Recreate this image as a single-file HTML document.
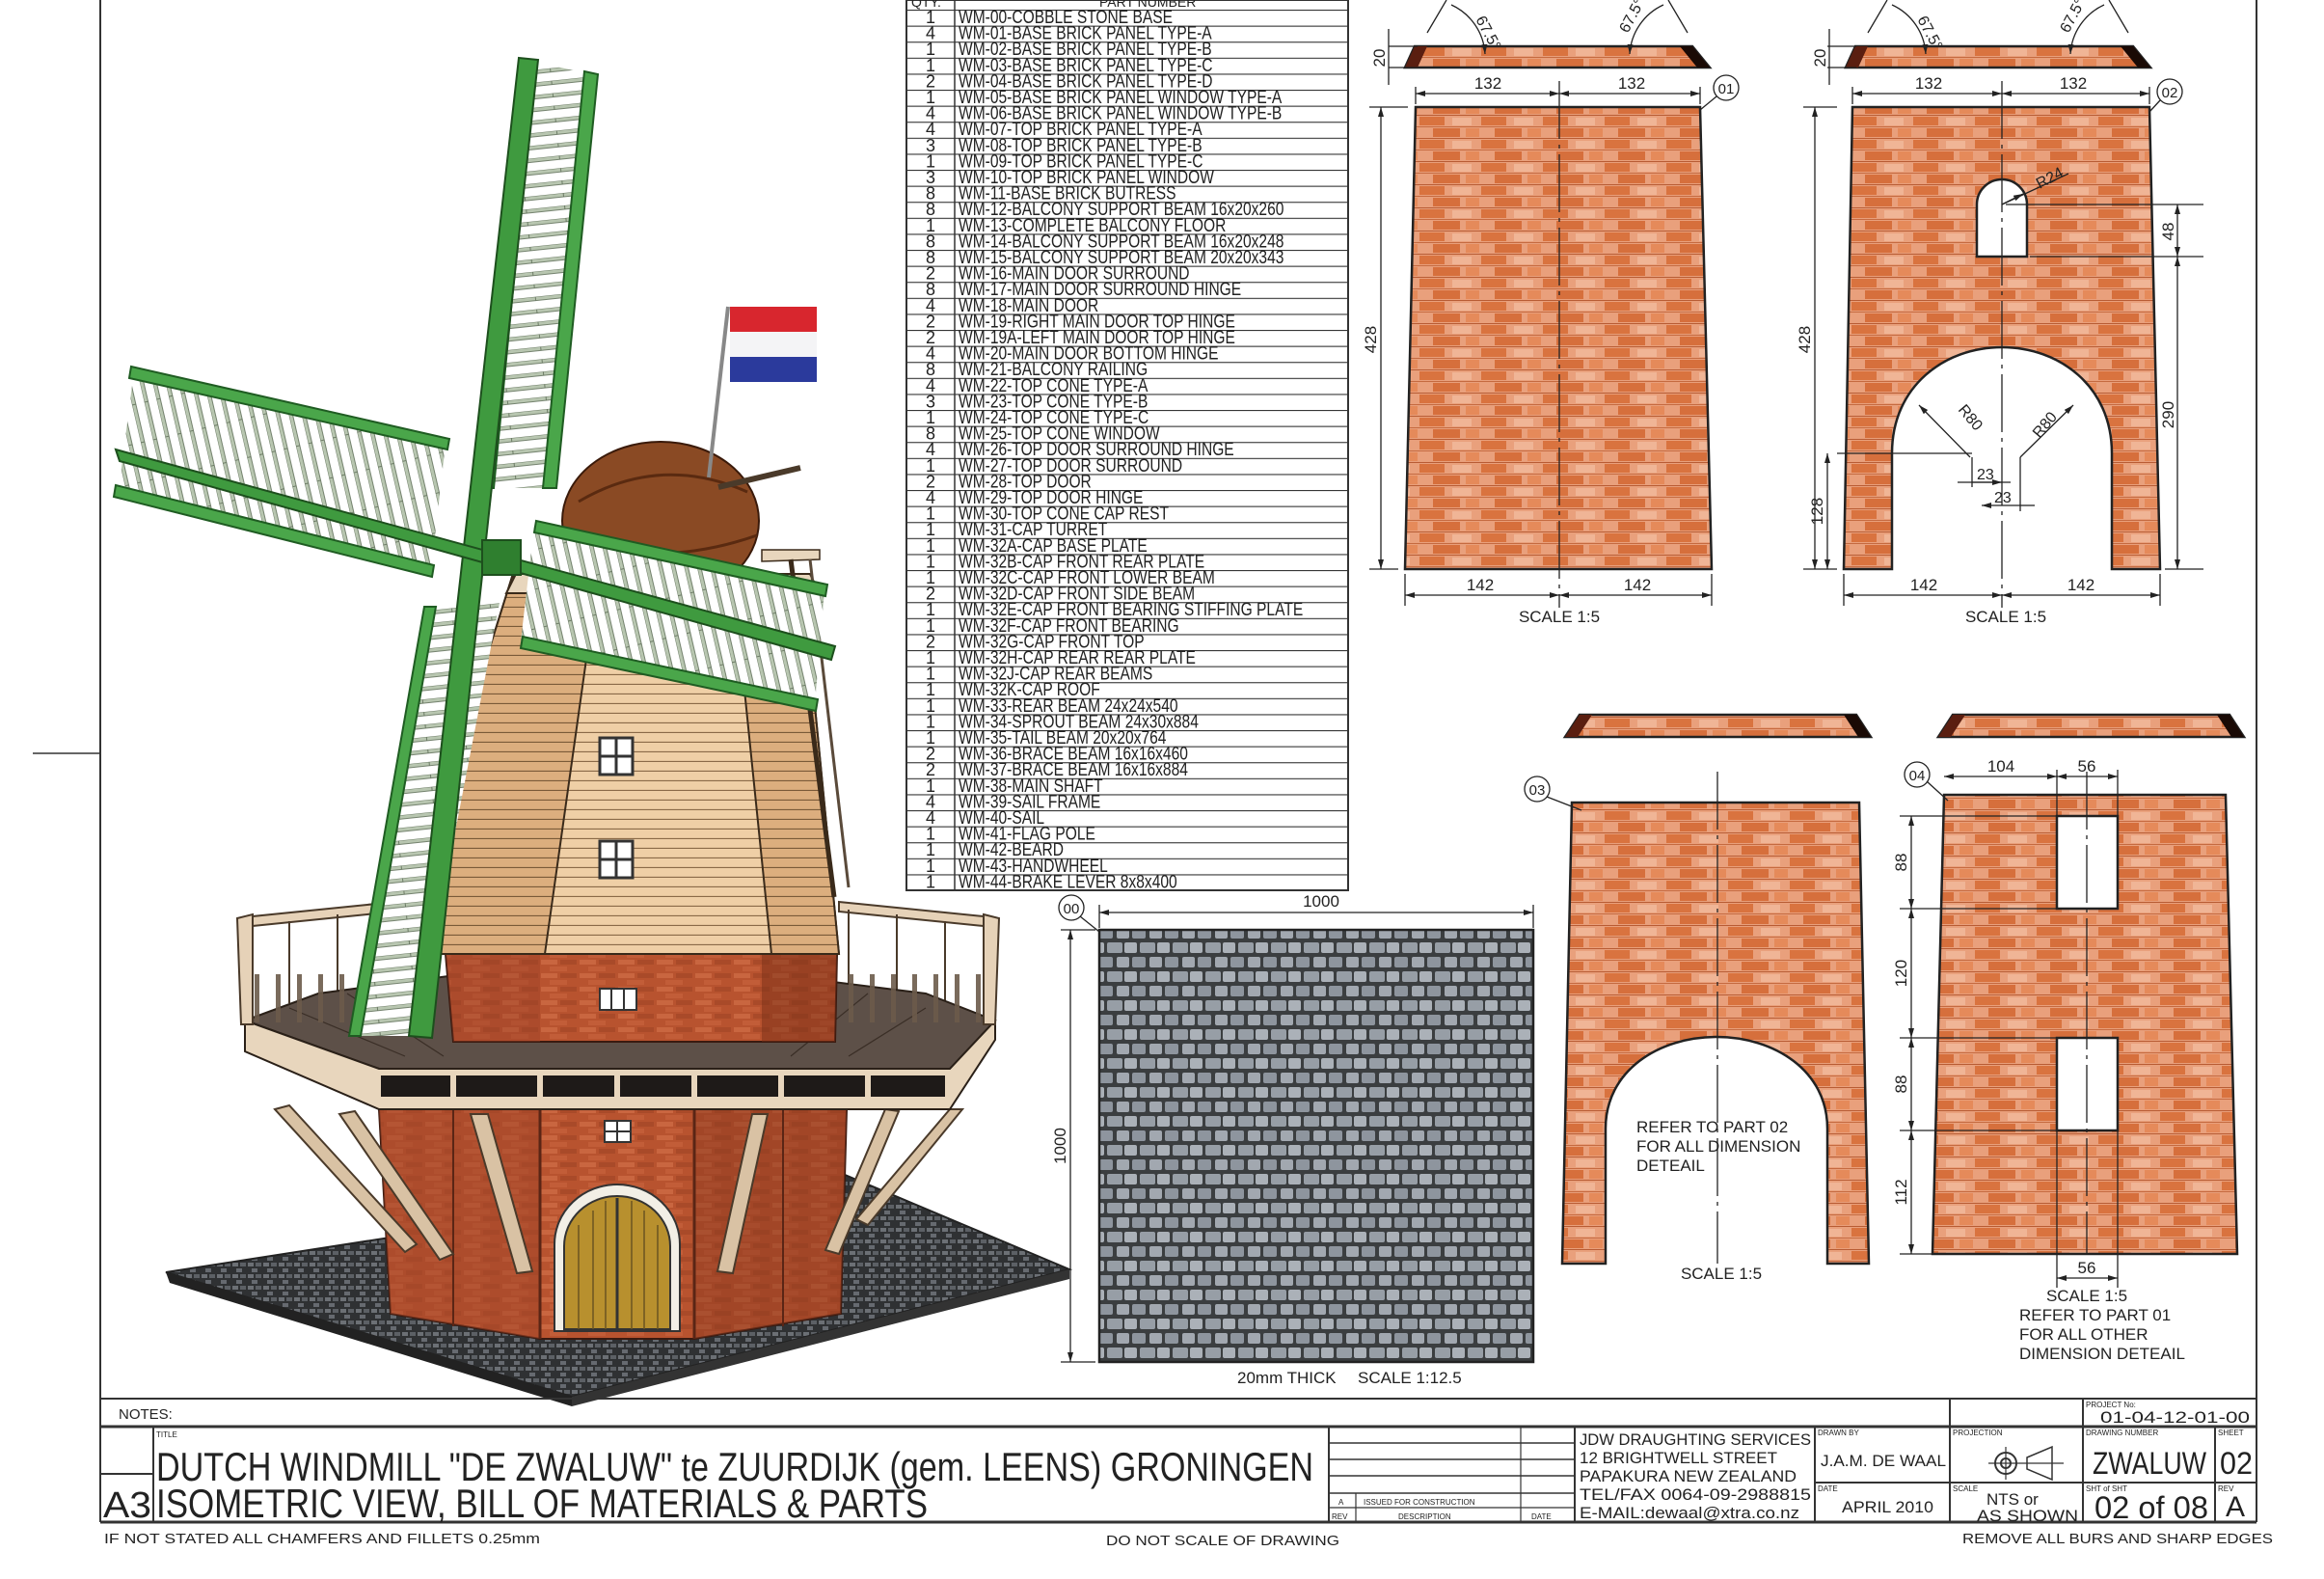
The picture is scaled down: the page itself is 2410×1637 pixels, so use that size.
<!DOCTYPE html>
<html><head><meta charset="utf-8"><style>
html,body{margin:0;padding:0;background:#fff}
svg{display:block}
text{font-family:"Liberation Sans",sans-serif;fill:#222}
</style></head><body>
<svg width="2410" height="1637" viewBox="0 0 2410 1637" xmlns="http://www.w3.org/2000/svg">
<defs>
<pattern id="brick" patternUnits="userSpaceOnUse" width="64" height="24">
<rect width="64" height="24" fill="#e9a07c"/>
<rect x="0" y="1" width="26" height="9" fill="#d9733f"/>
<rect x="34" y="2" width="20" height="8" fill="#f0b596"/>
<rect x="14" y="13" width="28" height="9" fill="#d66f3c"/>
<rect x="48" y="13" width="14" height="9" fill="#e58a5a"/>
<line x1="0" y1="11.5" x2="64" y2="11.5" stroke="#c56a40" stroke-width="1"/>
<line x1="0" y1="23.5" x2="64" y2="23.5" stroke="#b85c34" stroke-width="1"/>
</pattern>
<pattern id="brickd" patternUnits="userSpaceOnUse" width="40" height="14">
<rect width="40" height="14" fill="#b8532f"/>
<rect x="1" y="1" width="17" height="5" fill="#c96640"/>
<rect x="21" y="1" width="17" height="5" fill="#a94a29"/>
<rect x="10" y="8" width="18" height="5" fill="#c25d38"/>
</pattern>
<pattern id="cobble" patternUnits="userSpaceOnUse" width="34" height="30">
<rect width="34" height="30" fill="#3b3e40"/>
<rect x="2" y="2" width="13" height="11" rx="2" fill="#a2a8b0"/>
<rect x="18" y="2" width="14" height="11" rx="2" fill="#8e959e"/>
<rect x="-6" y="17" width="14" height="11" rx="2" fill="#979ea6"/>
<rect x="10" y="17" width="13" height="11" rx="2" fill="#abb1b8"/>
<rect x="26" y="17" width="14" height="11" rx="2" fill="#979ea6"/>
</pattern>
<pattern id="cobbles" patternUnits="userSpaceOnUse" width="16" height="12">
<rect width="16" height="12" fill="#2f3133"/>
<rect x="1" y="1" width="6" height="4" fill="#6c7075"/>
<rect x="9" y="1" width="6" height="4" fill="#5c6065"/>
<rect x="5" y="7" width="6" height="4" fill="#666a70"/>
</pattern>
<pattern id="plank" patternUnits="userSpaceOnUse" width="20" height="10">
<rect width="20" height="10" fill="#efcfa6"/>
<line x1="0" y1="9.5" x2="20" y2="9.5" stroke="#8a6a48" stroke-width="1.2"/>
</pattern>
<pattern id="plankd" patternUnits="userSpaceOnUse" width="20" height="10">
<rect width="20" height="10" fill="#dcae7e"/>
<line x1="0" y1="9.5" x2="20" y2="9.5" stroke="#7a5a38" stroke-width="1.2"/>
</pattern>
<pattern id="rungV" patternUnits="userSpaceOnUse" width="40" height="13" patternTransform="rotate(-6)">
<rect width="40" height="13" fill="#fff"/>
<rect x="0" y="0" width="40" height="4" fill="#b8c6b0" stroke="#5b6b55" stroke-width="0.8"/>
</pattern>
<pattern id="rungH" patternUnits="userSpaceOnUse" width="13" height="40" patternTransform="rotate(-13)">
<rect width="13" height="40" fill="#fff"/>
<rect x="0" y="0" width="4" height="40" fill="#b8c6b0" stroke="#5b6b55" stroke-width="0.8"/>
</pattern>
<pattern id="rows" patternUnits="userSpaceOnUse" width="460" height="16.6" y="10">
<line x1="0" y1="0.5" x2="460" y2="0.5" stroke="#333" stroke-width="1.3"/>
</pattern>
<pattern id="rail" patternUnits="userSpaceOnUse" width="22" height="60">
<rect width="22" height="60" fill="none"/>
<rect x="0" y="0" width="5" height="60" fill="#6b5a4a"/>
</pattern>
<marker id="ar" viewBox="0 0 10 6" refX="10" refY="3" markerWidth="12" markerHeight="6" orient="auto-start-reverse" markerUnits="userSpaceOnUse"><path d="M0,0 L10,3 L0,6 z" fill="#222"/></marker>
</defs>

<line x1="104" y1="0" x2="104" y2="1578" stroke="#333" stroke-width="2"/>
<line x1="2340" y1="0" x2="2340" y2="1578" stroke="#333" stroke-width="2"/>
<line x1="34" y1="781" x2="104" y2="781" stroke="#333" stroke-width="1.5"/>

<g>
<polygon points="172,1319 862,1212 1109,1316 593,1448" fill="url(#cobbles)" stroke="#222" stroke-width="2"/>
<polygon points="172,1319 593,1448 593,1458 176,1330" fill="#222"/>
<polygon points="593,1448 1109,1316 1109,1326 593,1458" fill="#333"/>
<polygon points="393,1150 460,1130 820,1130 878,1150 872,1362 720,1388 560,1388 405,1362" fill="url(#brickd)" stroke="#3a1a10" stroke-width="2"/>
<polygon points="460,1130 560,1140 560,1388 405,1362 393,1150" fill="#a4472a" opacity="0.55"/>
<polygon points="720,1140 820,1130 878,1150 872,1362 720,1388" fill="#8c3a20" opacity="0.5"/>
<line x1="560" y1="1140" x2="560" y2="1388" stroke="#5a2515" stroke-width="3"/>
<line x1="720" y1="1140" x2="720" y2="1388" stroke="#5a2515" stroke-width="3"/>
<line x1="470" y1="1136" x2="470" y2="1375" stroke="#5a2515" stroke-width="2"/>
<line x1="812" y1="1136" x2="812" y2="1375" stroke="#5a2515" stroke-width="2"/>
<path d="M575,1380 V1290 A65,62 0 0 1 705,1290 V1380 Z" fill="#f2efe6" stroke="#333" stroke-width="2"/>
<path d="M585,1378 V1292 A55,52 0 0 1 695,1292 V1378 Z" fill="#b8902e" stroke="#333" stroke-width="2"/>
<line x1="640" y1="1242" x2="640" y2="1378" stroke="#333" stroke-width="3"/>
<g stroke="#6b5420" stroke-width="1.5"><line x1="600" y1="1270" x2="600" y2="1378"/><line x1="615" y1="1255" x2="615" y2="1378"/><line x1="628" y1="1245" x2="628" y2="1378"/><line x1="655" y1="1245" x2="655" y2="1378"/><line x1="668" y1="1255" x2="668" y2="1378"/><line x1="682" y1="1270" x2="682" y2="1378"/></g>
<rect x="627" y="1162" width="27" height="22" fill="#fff" stroke="#333" stroke-width="2"/><line x1="640" y1="1162" x2="640" y2="1184" stroke="#333" stroke-width="2"/><line x1="627" y1="1173" x2="654" y2="1173" stroke="#333" stroke-width="2"/>
<g stroke="#4a3a2a" stroke-width="2" fill="#d9c2a4">
<polygon points="285,1150 300,1146 432,1290 420,1298"/>
<polygon points="352,1155 368,1152 470,1300 456,1306"/>
<polygon points="488,1155 506,1155 552,1318 536,1320"/>
<polygon points="918,1150 932,1152 870,1300 856,1296"/>
<polygon points="985,1150 998,1150 900,1270 888,1264"/>
<polygon points="780,1155 796,1155 760,1320 744,1318"/>
</g>
<g stroke="#4a3a2a" stroke-width="2">
<polygon points="250,958 262,950 410,935 410,945 262,960" fill="#e6d2b8"/>
<polygon points="870,935 1020,950 1032,958 1020,960 870,945" fill="#e6d2b8"/>
<line x1="255" y1="958" x2="258" y2="1060"/>
<line x1="1028" y1="958" x2="1025" y2="1060"/>
<line x1="300" y1="955" x2="300" y2="1040"/>
<line x1="350" y1="948" x2="350" y2="1030"/>
<line x1="400" y1="943" x2="400" y2="1020"/>
<line x1="880" y1="943" x2="880" y2="1020"/>
<line x1="930" y1="948" x2="930" y2="1030"/>
<line x1="980" y1="955" x2="980" y2="1040"/>
</g>
<polygon points="254,1058 330,1030 480,1010 800,1010 960,1030 1032,1058 985,1108 393,1108" fill="#5d5048" stroke="#2a2018" stroke-width="2"/>
<g stroke="#3a2e26" stroke-width="1.2">
<line x1="300" y1="1045" x2="420" y2="1095"/><line x1="360" y1="1030" x2="460" y2="1095"/><line x1="900" y1="1030" x2="820" y2="1095"/><line x1="960" y1="1045" x2="880" y2="1095"/>
</g>
<polygon points="462,989 868,989 866,1080 470,1080" fill="url(#brickd)" stroke="#3a1a10" stroke-width="2"/>
<polygon points="560,989 560,1080 470,1080 462,989" fill="#9a4227" opacity="0.4"/>
<polygon points="790,989 790,1080 866,1080 868,989" fill="#7a3018" opacity="0.5"/>
<rect x="622" y="1025" width="38" height="22" fill="#fff" stroke="#333" stroke-width="2"/><line x1="634" y1="1025" x2="634" y2="1047" stroke="#333" stroke-width="2"/><line x1="647" y1="1025" x2="647" y2="1047" stroke="#333" stroke-width="2"/>
<polygon points="254,1058 393,1108 985,1108 1032,1058 1032,1078 985,1150 393,1150 254,1090" fill="#e8d6bd" stroke="#2a2018" stroke-width="2"/>
<rect x="395" y="1115" width="585" height="22" fill="#1e1a18"/>
<g stroke="#e8d6bd" stroke-width="6"><line x1="470" y1="1115" x2="470" y2="1137"/><line x1="560" y1="1115" x2="560" y2="1137"/><line x1="640" y1="1115" x2="640" y2="1137"/><line x1="720" y1="1115" x2="720" y2="1137"/><line x1="810" y1="1115" x2="810" y2="1137"/><line x1="900" y1="1115" x2="900" y2="1137"/></g>
<g stroke="#4a3a2a" stroke-width="2" fill="#e6d2b8">
<polygon points="246,952 262,948 262,1062 250,1062"/>
<polygon points="1020,948 1036,952 1032,1062 1020,1062"/>
</g>
<rect x="262" y="1010" width="140" height="50" fill="url(#rail)" opacity="0.9"/>
<rect x="880" y="1010" width="140" height="50" fill="url(#rail)" opacity="0.9"/>
<polygon points="531,598 832,598 870,989 408,989" fill="url(#plank)" stroke="#3a2a1a" stroke-width="2"/>
<polygon points="531,598 620,598 565,989 408,989" fill="url(#plankd)" stroke="#3a2a1a" stroke-width="2"/>
<polygon points="760,598 832,598 870,989 800,989" fill="url(#plankd)" stroke="#3a2a1a" stroke-width="2"/>
<rect x="622" y="765" width="34" height="38" fill="#fff" stroke="#333" stroke-width="3"/><line x1="639" y1="765" x2="639" y2="803" stroke="#333" stroke-width="3"/><line x1="622" y1="784" x2="656" y2="784" stroke="#333" stroke-width="3"/>
<rect x="622" y="872" width="34" height="38" fill="#fff" stroke="#333" stroke-width="3"/><line x1="639" y1="872" x2="639" y2="910" stroke="#333" stroke-width="3"/><line x1="622" y1="891" x2="656" y2="891" stroke="#333" stroke-width="3"/>
<polygon points="535,595 840,595 850,615 525,615" fill="#e8d6bd" stroke="#3a2a1a" stroke-width="2"/>
<ellipse cx="685" cy="540" rx="102" ry="82" fill="#8a4a24" stroke="#3a1a0a" stroke-width="2"/>
<path d="M600,520 Q685,470 775,510" fill="none" stroke="#5a2a10" stroke-width="3"/>
<path d="M590,560 Q685,590 785,555" fill="none" stroke="#5a2a10" stroke-width="3"/>
<line x1="745" y1="505" x2="830" y2="485" stroke="#4a3a2a" stroke-width="6"/>
<polygon points="790,570 850,570 850,580 790,582" fill="#e8d6bd" stroke="#3a2a1a" stroke-width="1.5"/>
<line x1="820" y1="580" x2="865" y2="930" stroke="#3a2a1a" stroke-width="5"/>
<line x1="840" y1="580" x2="880" y2="920" stroke="#5a4a3a" stroke-width="3"/>
<line x1="755" y1="318" x2="735" y2="495" stroke="#888" stroke-width="4"/>
<rect x="757" y="318" width="90" height="26" fill="#d8262e"/>
<rect x="757" y="344" width="90" height="26" fill="#f4f4f6"/>
<rect x="757" y="370" width="90" height="26" fill="#2b3a9c"/>
<polygon points="554,64 613,77 570,506 508,506" fill="url(#rungV)"/>
<polygon points="518,625 447,629 367,1074 431,1074" fill="url(#rungV)"/>
<polygon points="139,384 462,460 447,592 123,508" fill="url(#rungH)"/>
<polygon points="554,545 855,611 845,730 540,665" fill="url(#rungH)"/>
<g stroke="#1f5c22" stroke-width="2" fill="#4aa64a">
<polygon points="606,74 620,77 577,506 563,506"/>
<polygon points="541,62 555,64 512,506 498,506"/>
<polygon points="452,629 440,629 362,1074 374,1074"/>
<polygon points="136,380 466,455 464,466 134,392"/>
<polygon points="120,503 450,586 448,598 118,515"/>
<polygon points="556,540 858,606 856,618 554,552"/>
<polygon points="542,660 848,725 846,737 540,672"/>
</g>
<polygon points="538,60 558,62 448,1076 424,1074" fill="#3f9a3f" stroke="#1d4f1d" stroke-width="2"/>
<polygon points="120,466 124,478 862,684 866,670" fill="#3f9a3f" stroke="#1d4f1d" stroke-width="2"/>
<rect x="500" y="560" width="40" height="36" fill="#2f7f2f" stroke="#1d4f1d" stroke-width="2"/>
</g>

<rect x="940" y="0" width="458" height="923" fill="none" stroke="#333" stroke-width="2"/>
<rect x="940" y="10" width="458" height="913" fill="url(#rows)"/>
<line x1="990" y1="0" x2="990" y2="923" stroke="#333" stroke-width="1.5"/>
<text x="945" y="7" font-size="14">QTY.</text>
<text x="1140" y="7" font-size="14">PART NUMBER</text>
<g font-size="18" text-anchor="middle">
<text x="965" y="24">1</text><text x="965" y="40.6">4</text><text x="965" y="57.2">1</text><text x="965" y="73.8">1</text><text x="965" y="90.4">2</text><text x="965" y="107">1</text><text x="965" y="123.6">4</text><text x="965" y="140.2">4</text><text x="965" y="156.8">3</text><text x="965" y="173.4">1</text><text x="965" y="190">3</text><text x="965" y="206.6">8</text><text x="965" y="223.2">8</text><text x="965" y="239.8">1</text><text x="965" y="256.4">8</text><text x="965" y="273">8</text><text x="965" y="289.6">2</text><text x="965" y="306.2">8</text><text x="965" y="322.8">4</text><text x="965" y="339.4">2</text><text x="965" y="356">2</text><text x="965" y="372.6">4</text><text x="965" y="389.2">8</text><text x="965" y="405.8">4</text><text x="965" y="422.4">3</text><text x="965" y="439">1</text><text x="965" y="455.6">8</text><text x="965" y="472.2">4</text><text x="965" y="488.8">1</text><text x="965" y="505.4">2</text><text x="965" y="522">4</text><text x="965" y="538.6">1</text><text x="965" y="555.2">1</text><text x="965" y="571.8">1</text><text x="965" y="588.4">1</text><text x="965" y="605">1</text><text x="965" y="621.6">2</text><text x="965" y="638.2">1</text><text x="965" y="654.8">1</text><text x="965" y="671.4">2</text><text x="965" y="688">1</text><text x="965" y="704.6">1</text><text x="965" y="721.2">1</text><text x="965" y="737.8">1</text><text x="965" y="754.4">1</text><text x="965" y="771">1</text><text x="965" y="787.6">2</text><text x="965" y="804.2">2</text><text x="965" y="820.8">1</text><text x="965" y="837.4">4</text><text x="965" y="854">4</text><text x="965" y="870.6">1</text><text x="965" y="887.2">1</text><text x="965" y="903.8">1</text><text x="965" y="920.4">1</text>
</g>
<g transform="translate(994,0) scale(0.82,1)" font-size="19">
<text x="0" y="24">WM-00-COBBLE STONE BASE</text>
<text x="0" y="40.6">WM-01-BASE BRICK PANEL TYPE-A</text>
<text x="0" y="57.2">WM-02-BASE BRICK PANEL TYPE-B</text>
<text x="0" y="73.8">WM-03-BASE BRICK PANEL TYPE-C</text>
<text x="0" y="90.4">WM-04-BASE BRICK PANEL TYPE-D</text>
<text x="0" y="107">WM-05-BASE BRICK PANEL WINDOW TYPE-A</text>
<text x="0" y="123.6">WM-06-BASE BRICK PANEL WINDOW TYPE-B</text>
<text x="0" y="140.2">WM-07-TOP BRICK PANEL TYPE-A</text>
<text x="0" y="156.8">WM-08-TOP BRICK PANEL TYPE-B</text>
<text x="0" y="173.4">WM-09-TOP BRICK PANEL TYPE-C</text>
<text x="0" y="190">WM-10-TOP BRICK PANEL WINDOW</text>
<text x="0" y="206.6">WM-11-BASE BRICK BUTRESS</text>
<text x="0" y="223.2">WM-12-BALCONY SUPPORT BEAM 16x20x260</text>
<text x="0" y="239.8">WM-13-COMPLETE BALCONY FLOOR</text>
<text x="0" y="256.4">WM-14-BALCONY SUPPORT BEAM 16x20x248</text>
<text x="0" y="273">WM-15-BALCONY SUPPORT BEAM 20x20x343</text>
<text x="0" y="289.6">WM-16-MAIN DOOR SURROUND</text>
<text x="0" y="306.2">WM-17-MAIN DOOR SURROUND HINGE</text>
<text x="0" y="322.8">WM-18-MAIN DOOR</text>
<text x="0" y="339.4">WM-19-RIGHT MAIN DOOR TOP HINGE</text>
<text x="0" y="356">WM-19A-LEFT MAIN DOOR TOP HINGE</text>
<text x="0" y="372.6">WM-20-MAIN DOOR BOTTOM HINGE</text>
<text x="0" y="389.2">WM-21-BALCONY RAILING</text>
<text x="0" y="405.8">WM-22-TOP CONE TYPE-A</text>
<text x="0" y="422.4">WM-23-TOP CONE TYPE-B</text>
<text x="0" y="439">WM-24-TOP CONE TYPE-C</text>
<text x="0" y="455.6">WM-25-TOP CONE WINDOW</text>
<text x="0" y="472.2">WM-26-TOP DOOR SURROUND HINGE</text>
<text x="0" y="488.8">WM-27-TOP DOOR SURROUND</text>
<text x="0" y="505.4">WM-28-TOP DOOR</text>
<text x="0" y="522">WM-29-TOP DOOR HINGE</text>
<text x="0" y="538.6">WM-30-TOP CONE CAP REST</text>
<text x="0" y="555.2">WM-31-CAP TURRET</text>
<text x="0" y="571.8">WM-32A-CAP BASE PLATE</text>
<text x="0" y="588.4">WM-32B-CAP FRONT REAR PLATE</text>
<text x="0" y="605">WM-32C-CAP FRONT LOWER BEAM</text>
<text x="0" y="621.6">WM-32D-CAP FRONT SIDE BEAM</text>
<text x="0" y="638.2">WM-32E-CAP FRONT BEARING STIFFING PLATE</text>
<text x="0" y="654.8">WM-32F-CAP FRONT BEARING</text>
<text x="0" y="671.4">WM-32G-CAP FRONT TOP</text>
<text x="0" y="688">WM-32H-CAP REAR REAR PLATE</text>
<text x="0" y="704.6">WM-32J-CAP REAR  BEAMS</text>
<text x="0" y="721.2">WM-32K-CAP ROOF</text>
<text x="0" y="737.8">WM-33-REAR BEAM 24x24x540</text>
<text x="0" y="754.4">WM-34-SPROUT BEAM 24x30x884</text>
<text x="0" y="771">WM-35-TAIL BEAM 20x20x764</text>
<text x="0" y="787.6">WM-36-BRACE BEAM 16x16x460</text>
<text x="0" y="804.2">WM-37-BRACE BEAM 16x16x884</text>
<text x="0" y="820.8">WM-38-MAIN SHAFT</text>
<text x="0" y="837.4">WM-39-SAIL FRAME</text>
<text x="0" y="854">WM-40-SAIL</text>
<text x="0" y="870.6">WM-41-FLAG POLE</text>
<text x="0" y="887.2">WM-42-BEARD</text>
<text x="0" y="903.8">WM-43-HANDWHEEL</text>
<text x="0" y="920.4">WM-44-BRAKE LEVER 8x8x400</text>
</g>

<g stroke="#222" stroke-width="1.3" fill="none">
<polygon points="1467,48 1755,48 1773,70 1457,70" fill="url(#brick)" stroke-width="2.5"/>
<polygon points="1467,48 1480,48 1470,70 1457,70" fill="#5a1e10" stroke="none"/>
<polygon points="1742,48 1755,48 1773,70 1760,70" fill="#1a0a05" stroke="none"/>
<path d="M1480,34 L1500,0"/><path d="M1750,34 L1730,0"/>
<path d="M1540,56 A60,60 0 0 0 1505,5" marker-start="url(#ar)"/>
<path d="M1690,56 A60,60 0 0 1 1725,5" marker-start="url(#ar)"/>
<line x1="1440" y1="48" x2="1470" y2="48"/><line x1="1440" y1="70" x2="1470" y2="70"/>
<line x1="1440" y1="30" x2="1440" y2="88"/>
<polygon points="1468,111 1763,111 1775,590 1457,590" fill="url(#brick)" stroke-width="2.5"/>
<line x1="1617" y1="84" x2="1617" y2="630" stroke-dasharray="60,6,4,6"/>
<line x1="1468" y1="97" x2="1617" y2="97" marker-start="url(#ar)" marker-end="url(#ar)"/>
<line x1="1617" y1="97" x2="1763" y2="97" marker-start="url(#ar)" marker-end="url(#ar)"/>
<line x1="1468" y1="90" x2="1468" y2="108"/><line x1="1763" y1="90" x2="1763" y2="108"/>
<line x1="1420" y1="111" x2="1460" y2="111"/><line x1="1420" y1="590" x2="1450" y2="590"/>
<line x1="1432" y1="111" x2="1432" y2="590" marker-start="url(#ar)" marker-end="url(#ar)"/>
<line x1="1457" y1="595" x2="1457" y2="628"/><line x1="1775" y1="595" x2="1775" y2="628"/>
<line x1="1457" y1="617" x2="1617" y2="617" marker-start="url(#ar)" marker-end="url(#ar)"/>
<line x1="1617" y1="617" x2="1775" y2="617" marker-start="url(#ar)" marker-end="url(#ar)"/>
<circle cx="1790" cy="91" r="13"/><line x1="1780" y1="100" x2="1763" y2="114"/>
</g>
<g font-size="17">
<text x="1543" y="92" text-anchor="middle">132</text><text x="1692" y="92" text-anchor="middle">132</text>
<text x="1535" y="612" text-anchor="middle">142</text><text x="1698" y="612" text-anchor="middle">142</text>
<text x="1617" y="645" text-anchor="middle">SCALE 1:5</text>
<text x="1790" y="97" text-anchor="middle" font-size="15">01</text>
<text transform="translate(1427,352) rotate(-90)" text-anchor="middle">428</text>
<text transform="translate(1436,60) rotate(-90)" text-anchor="middle">20</text>
<text transform="translate(1530,20) rotate(62)" font-size="16">67.5°</text>
<text transform="translate(1688,35) rotate(-62)" font-size="16">67.5°</text>
</g>

<g stroke="#222" stroke-width="1.3" fill="none">
<polygon points="1924,48 2212,48 2230,70 1914,70" fill="url(#brick)" stroke-width="2.5"/>
<polygon points="1924,48 1937,48 1927,70 1914,70" fill="#5a1e10" stroke="none"/>
<polygon points="2199,48 2212,48 2230,70 2217,70" fill="#1a0a05" stroke="none"/>
<path d="M1937,34 L1957,0"/><path d="M2207,34 L2187,0"/>
<path d="M1997,56 A60,60 0 0 0 1962,5" marker-start="url(#ar)"/>
<path d="M2147,56 A60,60 0 0 1 2182,5" marker-start="url(#ar)"/>
<line x1="1895" y1="48" x2="1925" y2="48"/><line x1="1895" y1="70" x2="1925" y2="70"/>
<line x1="1897" y1="30" x2="1897" y2="88"/>
<path fill-rule="evenodd" fill="url(#brick)" stroke-width="2.5" d="M1921,111 H2229 L2240,590 H2190 V470 C2190,400 2135,360 2076,360 C2017,360 1962,400 1962,470 V590 H1912 Z M2050,266 V212 A26,26 0 0 1 2102,212 V266 Z"/>
<line x1="2076" y1="84" x2="2076" y2="630" stroke-dasharray="60,6,4,6"/>
<line x1="1921" y1="97" x2="2076" y2="97" marker-start="url(#ar)" marker-end="url(#ar)"/>
<line x1="2076" y1="97" x2="2229" y2="97" marker-start="url(#ar)" marker-end="url(#ar)"/>
<line x1="1921" y1="90" x2="1921" y2="108"/><line x1="2229" y1="90" x2="2229" y2="108"/>
<line x1="1870" y1="111" x2="1905" y2="111"/><line x1="1870" y1="590" x2="1905" y2="590"/>
<line x1="1882" y1="111" x2="1882" y2="590" marker-start="url(#ar)" marker-end="url(#ar)"/>
<line x1="1905" y1="470" x2="2045" y2="470"/>
<line x1="1895" y1="470" x2="1895" y2="590" marker-start="url(#ar)" marker-end="url(#ar)"/>
<line x1="2080" y1="212" x2="2285" y2="212"/><line x1="2105" y1="266" x2="2285" y2="266"/><line x1="2245" y1="590" x2="2285" y2="590"/>
<line x1="2258" y1="212" x2="2258" y2="266" marker-start="url(#ar)" marker-end="url(#ar)"/>
<line x1="2258" y1="266" x2="2258" y2="590" marker-start="url(#ar)" marker-end="url(#ar)"/>
<line x1="2076" y1="212" x2="2145" y2="180"/><line x1="2076" y1="212" x2="2098" y2="201" marker-end="url(#ar)"/>
<line x1="2043" y1="474" x2="1990" y2="420" marker-end="url(#ar)"/>
<line x1="2095" y1="474" x2="2150" y2="420" marker-end="url(#ar)"/>
<line x1="2045" y1="474" x2="2045" y2="505"/><line x1="2095" y1="474" x2="2095" y2="530"/>
<line x1="2030" y1="500" x2="2076" y2="500" marker-end="url(#ar)"/><line x1="2045" y1="500" x2="2085" y2="500"/>
<line x1="2055" y1="524" x2="2095" y2="524" marker-start="url(#ar)"/><line x1="2095" y1="524" x2="2110" y2="524"/>
<line x1="1912" y1="595" x2="1912" y2="628"/><line x1="2240" y1="595" x2="2240" y2="628"/>
<line x1="1912" y1="617" x2="2076" y2="617" marker-start="url(#ar)" marker-end="url(#ar)"/>
<line x1="2076" y1="617" x2="2240" y2="617" marker-start="url(#ar)" marker-end="url(#ar)"/>
<circle cx="2250" cy="95" r="13"/><line x1="2240" y1="104" x2="2229" y2="116"/>
</g>
<g font-size="17">
<text x="2000" y="92" text-anchor="middle">132</text><text x="2150" y="92" text-anchor="middle">132</text>
<text x="1995" y="612" text-anchor="middle">142</text><text x="2158" y="612" text-anchor="middle">142</text>
<text x="2080" y="645" text-anchor="middle">SCALE 1:5</text>
<text x="2250" y="101" text-anchor="middle" font-size="15">02</text>
<text transform="translate(1877,352) rotate(-90)" text-anchor="middle">428</text>
<text transform="translate(1890,530) rotate(-90)" text-anchor="middle">128</text>
<text transform="translate(2254,240) rotate(-90)" text-anchor="middle">48</text>
<text transform="translate(2254,430) rotate(-90)" text-anchor="middle">290</text>
<text transform="translate(1893,60) rotate(-90)" text-anchor="middle">20</text>
<text transform="translate(2115,196) rotate(-28)" font-size="16">R24</text>
<text transform="translate(2030,425) rotate(50)" font-size="16">R80</text>
<text transform="translate(2115,455) rotate(-50)" font-size="16">R80</text>
<text x="2050" y="497" font-size="16">23</text><text x="2068" y="521" font-size="16">23</text>
<text transform="translate(1988,20) rotate(62)" font-size="16">67.5°</text>
<text transform="translate(2145,35) rotate(-62)" font-size="16">67.5°</text>
</g>

<g stroke="#222" stroke-width="1.3" fill="none">
<polygon points="1638,741 1925,741 1940,764 1623,764" fill="url(#brick)" stroke-width="2.5"/>
<polygon points="1638,741 1651,741 1636,764 1623,764" fill="#5a1e10" stroke="none"/>
<polygon points="1912,741 1925,741 1940,764 1927,764" fill="#1a0a05" stroke="none"/>
<path fill="url(#brick)" stroke-width="2.5" d="M1630,832 H1928 L1938,1310 H1895 V1170 C1895,1110 1840,1075 1780,1075 C1720,1075 1665,1110 1665,1170 V1310 H1620 Z"/>
<line x1="1781" y1="800" x2="1781" y2="1310" stroke-dasharray="60,6,4,6"/>
<circle cx="1594" cy="818" r="13"/><line x1="1604" y1="826" x2="1640" y2="840"/>
</g>
<g font-size="17">
<text x="1594" y="824" text-anchor="middle" font-size="15">03</text>
<text x="1697" y="1174">REFER TO PART 02</text>
<text x="1697" y="1194">FOR ALL DIMENSION</text>
<text x="1697" y="1214">DETEAIL</text>
<text x="1785" y="1326" text-anchor="middle">SCALE 1:5</text>
</g>

<g stroke="#222" stroke-width="1.3" fill="none">
<polygon points="2025,741 2312,741 2327,764 2010,764" fill="url(#brick)" stroke-width="2.5"/>
<polygon points="2025,741 2038,741 2023,764 2010,764" fill="#5a1e10" stroke="none"/>
<polygon points="2299,741 2312,741 2327,764 2314,764" fill="#1a0a05" stroke="none"/>
<path fill-rule="evenodd" fill="url(#brick)" stroke-width="2.5" d="M2016,824 H2308 L2320,1300 H2004 Z M2133,846 H2196 V942 H2133 Z M2133,1076 H2196 V1172 H2133 Z"/>
<line x1="2164" y1="800" x2="2164" y2="1300" stroke-dasharray="60,6,4,6"/>
<line x1="2016" y1="805" x2="2133" y2="805" marker-start="url(#ar)" marker-end="url(#ar)"/>
<line x1="2133" y1="805" x2="2196" y2="805" marker-start="url(#ar)" marker-end="url(#ar)"/>
<line x1="2133" y1="798" x2="2133" y2="846"/><line x1="2196" y1="798" x2="2196" y2="846"/>
<line x1="1970" y1="846" x2="2133" y2="846"/><line x1="1970" y1="942" x2="2133" y2="942"/><line x1="1970" y1="1076" x2="2133" y2="1076"/><line x1="1970" y1="1172" x2="2133" y2="1172"/><line x1="1970" y1="1300" x2="2004" y2="1300"/>
<line x1="1982" y1="846" x2="1982" y2="942" marker-start="url(#ar)" marker-end="url(#ar)"/>
<line x1="1982" y1="942" x2="1982" y2="1076" marker-start="url(#ar)" marker-end="url(#ar)"/>
<line x1="1982" y1="1076" x2="1982" y2="1172" marker-start="url(#ar)" marker-end="url(#ar)"/>
<line x1="1982" y1="1172" x2="1982" y2="1300" marker-start="url(#ar)" marker-end="url(#ar)"/>
<line x1="2133" y1="1172" x2="2133" y2="1335"/><line x1="2196" y1="1172" x2="2196" y2="1335"/>
<line x1="2133" y1="1325" x2="2196" y2="1325" marker-start="url(#ar)" marker-end="url(#ar)"/>
<circle cx="1988" cy="803" r="13"/><line x1="1998" y1="810" x2="2020" y2="830"/>
</g>
<g font-size="17">
<text x="2075" y="800" text-anchor="middle">104</text><text x="2164" y="800" text-anchor="middle">56</text>
<text x="1988" y="809" text-anchor="middle" font-size="15">04</text>
<text transform="translate(1977,894) rotate(-90)" text-anchor="middle">88</text>
<text transform="translate(1977,1009) rotate(-90)" text-anchor="middle">120</text>
<text transform="translate(1977,1124) rotate(-90)" text-anchor="middle">88</text>
<text transform="translate(1977,1236) rotate(-90)" text-anchor="middle">112</text>
<text x="2164" y="1320" text-anchor="middle">56</text>
<text x="2164" y="1349" text-anchor="middle">SCALE 1:5</text>
<text x="2094" y="1369">REFER TO PART 01</text>
<text x="2094" y="1389">FOR ALL OTHER</text>
<text x="2094" y="1409">DIMENSION DETEAIL</text>
</g>

<g stroke="#222" stroke-width="1.3" fill="none">
<rect x="1140" y="964" width="450" height="448" fill="url(#cobble)" stroke-width="2.5"/>
<line x1="1140" y1="946" x2="1590" y2="946" marker-start="url(#ar)" marker-end="url(#ar)"/>
<line x1="1140" y1="938" x2="1140" y2="962"/><line x1="1590" y1="938" x2="1590" y2="962"/>
<line x1="1100" y1="964" x2="1136" y2="964"/><line x1="1100" y1="1412" x2="1136" y2="1412"/>
<line x1="1110" y1="964" x2="1110" y2="1412" marker-start="url(#ar)" marker-end="url(#ar)"/>
<circle cx="1111" cy="941" r="13"/><line x1="1120" y1="950" x2="1140" y2="966"/>
</g>
<g font-size="17">
<text x="1370" y="940" text-anchor="middle">1000</text>
<text x="1111" y="947" text-anchor="middle" font-size="15">00</text>
<text transform="translate(1105,1188) rotate(-90)" text-anchor="middle">1000</text>
<text x="1283" y="1434">20mm THICK</text>
<text x="1408" y="1434">SCALE 1:12.5</text>
</g>

<g stroke="#333" stroke-width="2" fill="none">
<line x1="104" y1="1450" x2="2340" y2="1450"/>
<line x1="104" y1="1479" x2="2340" y2="1479" stroke-width="3"/>
<line x1="104" y1="1578" x2="2340" y2="1578" stroke-width="3"/>
<line x1="159" y1="1479" x2="159" y2="1578"/>
<line x1="104" y1="1528" x2="159" y2="1528"/>
<line x1="1378" y1="1479" x2="1378" y2="1578"/>
<line x1="1406" y1="1548" x2="1406" y2="1578" stroke-width="1.2"/>
<line x1="1577" y1="1479" x2="1577" y2="1578" stroke-width="1.2"/>
<line x1="1633" y1="1479" x2="1633" y2="1578"/>
<line x1="1378" y1="1496" x2="1633" y2="1496" stroke-width="1.5"/>
<line x1="1378" y1="1513" x2="1633" y2="1513" stroke-width="1.5"/>
<line x1="1378" y1="1530" x2="1633" y2="1530" stroke-width="1.5"/>
<line x1="1378" y1="1548" x2="1633" y2="1548" stroke-width="1.5"/>
<line x1="1378" y1="1563" x2="1633" y2="1563" stroke-width="1.2"/>
<line x1="1882" y1="1479" x2="1882" y2="1578"/>
<line x1="2022" y1="1450" x2="2022" y2="1578"/>
<line x1="2160" y1="1450" x2="2160" y2="1578"/>
<line x1="2297" y1="1479" x2="2297" y2="1578"/>
<line x1="1882" y1="1537" x2="2340" y2="1537"/>
<circle cx="2080" cy="1517" r="11"/><circle cx="2080" cy="1517" r="5"/>
<line x1="2062" y1="1517" x2="2140" y2="1517" stroke-width="1.2"/>
<line x1="2080" y1="1500" x2="2080" y2="1534" stroke-width="1.2"/>
<polygon points="2102,1511 2128,1500 2128,1534 2102,1523" stroke-width="1.5"/>
</g>
<g>
<text x="123" y="1471" font-size="15">NOTES:</text>
<text x="162" y="1490" font-size="8">TITLE</text>
<text x="162" y="1535" font-size="42" textLength="1200" lengthAdjust="spacingAndGlyphs">DUTCH WINDMILL "DE ZWALUW" te ZUURDIJK (gem. LEENS) GRONINGEN</text>
<text x="162" y="1573" font-size="42" textLength="800" lengthAdjust="spacingAndGlyphs">ISOMETRIC VIEW, BILL OF MATERIALS &amp; PARTS</text>
<text x="107" y="1573" font-size="38" textLength="50" lengthAdjust="spacingAndGlyphs">A3</text>
<text x="1388" y="1560" font-size="8">A</text>
<text x="1414" y="1560" font-size="8">ISSUED FOR CONSTRUCTION</text>
<text x="1381" y="1575" font-size="8">REV</text>
<text x="1450" y="1575" font-size="8">DESCRIPTION</text>
<text x="1588" y="1575" font-size="8">DATE</text>
<g font-size="17">
<text x="1638" y="1498" textLength="240" lengthAdjust="spacingAndGlyphs">JDW DRAUGHTING SERVICES</text>
<text x="1638" y="1517" textLength="205" lengthAdjust="spacingAndGlyphs">12 BRIGHTWELL STREET</text>
<text x="1638" y="1536" textLength="225" lengthAdjust="spacingAndGlyphs">PAPAKURA NEW ZEALAND</text>
<text x="1638" y="1555" textLength="240" lengthAdjust="spacingAndGlyphs">TEL/FAX 0064-09-2988815</text>
<text x="1638" y="1574" textLength="228" lengthAdjust="spacingAndGlyphs">E-MAIL:dewaal@xtra.co.nz</text>
<text x="1888" y="1520" textLength="130" lengthAdjust="spacingAndGlyphs">J.A.M. DE WAAL</text>
<text x="1910" y="1568" textLength="95" lengthAdjust="spacingAndGlyphs">APRIL 2010</text>
<text x="2060" y="1560">NTS or</text>
<text x="2050" y="1577" textLength="105" lengthAdjust="spacingAndGlyphs">AS SHOWN</text>
<text x="2178" y="1475" textLength="155" lengthAdjust="spacingAndGlyphs">01-04-12-01-00</text>
</g>
<g font-size="8">
<text x="1885" y="1488">DRAWN BY</text><text x="1885" y="1546">DATE</text>
<text x="2025" y="1488">PROJECTION</text><text x="2025" y="1546">SCALE</text>
<text x="2163" y="1459">PROJECT No:</text>
<text x="2163" y="1488">DRAWING NUMBER</text><text x="2163" y="1546">SHT of SHT</text>
<text x="2300" y="1488">SHEET</text><text x="2300" y="1546">REV</text>
</g>
<text x="2170" y="1528" font-size="32" textLength="118" lengthAdjust="spacingAndGlyphs">ZWALUW</text>
<text x="2302" y="1528" font-size="32" textLength="34" lengthAdjust="spacingAndGlyphs">02</text>
<text x="2172" y="1574" font-size="32" textLength="118" lengthAdjust="spacingAndGlyphs">02 of 08</text>
<text x="2318" y="1572" font-size="30" text-anchor="middle">A</text>
<g font-size="15">
<text x="108" y="1600" textLength="452" lengthAdjust="spacingAndGlyphs">IF NOT STATED ALL CHAMFERS AND FILLETS 0.25mm</text>
<text x="1147" y="1602" textLength="242" lengthAdjust="spacingAndGlyphs">DO NOT SCALE OF DRAWING</text>
<text x="2035" y="1600" textLength="322" lengthAdjust="spacingAndGlyphs">REMOVE ALL BURS AND SHARP EDGES</text>
</g>
</g>
</svg>
</body></html>
